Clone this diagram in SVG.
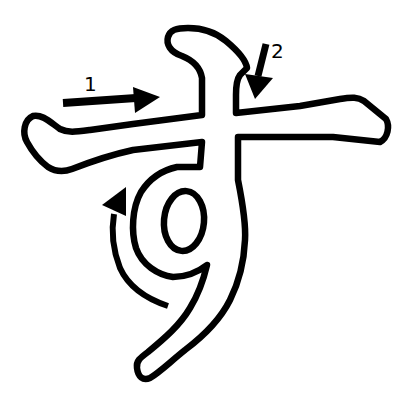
<svg xmlns="http://www.w3.org/2000/svg" width="400" height="400" viewBox="0 0 400 400">
<style>
.ol{fill:none;stroke:#000;stroke-width:6.5;stroke-linejoin:round;stroke-linecap:round}
.lbl{font-family:"DejaVu Sans","Liberation Sans",sans-serif;font-size:20px;fill:#000}
</style>
<rect width="400" height="400" fill="#fff"/>
<g id="glyph">
<path class="ol" d="M33,116 C42,114 50,122 60,129 C68,133 75,132 90,130 L133,124 L202,115 L202,78 C200,66 192,60 182,56 C170,52 166,44 168,37 C170,30 176,28 188,28 C200,28 214,31 226,41 C238,51 246,60 247,68 L240,75 C237,79 236,85 236,95 L236,113 L300,106 L340,99 C352,97 358,97 364,101 L386,119 C390,126 388,138 380,142 L333,137 L238,137 L238,180 C243,205 246,225 245,240 C244,262 240,280 230,300 C220,320 205,335 185,350 C170,362 160,372 150,378 C143,381 138,377 137,368 C136,361 140,358 148,352 C165,338 180,325 190,308 C198,295 203,282 207,265 C198,272 188,277 173,277 C158,275 142,265 136,248 C131,232 132,208 141,192 C150,178 163,170 177,167 L200,167 L202,142 L133,150 C110,155 90,162 72,169 C64,172 56,172 48,167 C40,161 33,153 27,142 C22,133 24,120 33,116 Z"/>
<ellipse class="ol" cx="184" cy="221" rx="20" ry="30" transform="rotate(5 184 221)"/>
</g>
<g id="arrows">
<path d="M63,103 L136,98" stroke="#000" stroke-width="8" fill="none"/>
<polygon points="133,87 160,97 135,113" fill="#000"/>
<text class="lbl" x="84" y="91">1</text>
<path d="M266,44 L258,76" stroke="#000" stroke-width="7" fill="none"/>
<polygon points="245,74 273,78 255,99" fill="#000"/>
<text class="lbl" x="271" y="58">2</text>
<path d="M168,306 C150,300 130,290 120,268 C113,250 111,232 114,214" stroke="#000" stroke-width="6" fill="none"/>
<polygon points="102,205 126,187 126,216" fill="#000"/>
</g>
</svg>
